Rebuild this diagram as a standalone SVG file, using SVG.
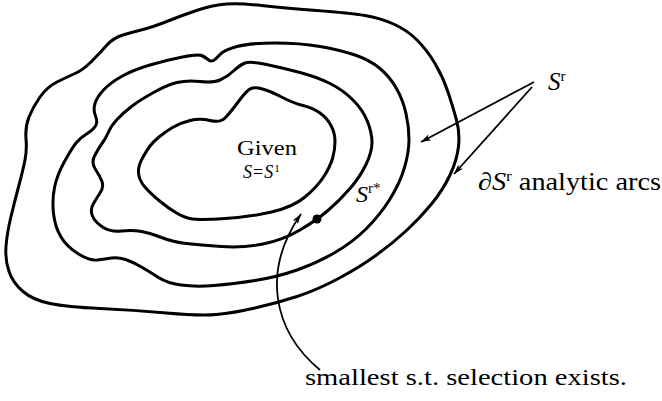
<svg xmlns="http://www.w3.org/2000/svg" width="662" height="401" viewBox="0 0 662 401">
<style>
.curve{fill:none;stroke:#000;stroke-width:3;stroke-linejoin:round}
.conn{fill:none;stroke:#000;stroke-width:1.8}
text{font-family:"Liberation Serif","Times New Roman",serif;fill:#000}
.it{font-style:italic}
</style>
<defs>
<marker id="ah" markerUnits="userSpaceOnUse" markerWidth="14" markerHeight="10" viewBox="-11 -5 12 10" refX="0" refY="0" orient="auto">
<path d="M0,0 L-10,-3.2 L-7.5,0 L-10,3.2 Z" fill="#000"/>
</marker>
</defs>
<g id="curve-outer">
<path class="curve" d="M26,138.5 Q25,127 29,117 Q33,107 40,97 Q47,87 57,82 Q67,77 75,73.5 Q83,70 91.5,61.5 Q100,53 106.5,45.5 Q113,38 123,35 Q133,32 143,29.5 Q153,27 168,21 Q183,15 198,10 Q213,5 226.5,4 Q240,3 261.5,5.5 Q283,8 316.5,10.5 Q350,13 365,15.5 Q380,18 393.5,24 Q407,30 417,40 Q427,50 435,63.5 Q443,77 448,92 Q453,107 456.5,120 Q460,133 458.5,146.5 Q457,160 450,175 Q443,190 431.5,204 Q420,218 406.5,230.5 Q393,243 376.5,255 Q360,267 338.5,278.5 Q317,290 297,296.5 Q277,303 255,308 Q233,313 216.5,314.5 Q200,316 166.5,313 Q133,310 100,308.5 Q67,307 50,303.5 Q33,300 23,291.5 Q13,283 9,271.5 Q5,260 6,246.5 Q7,233 11,216.5 Q15,200 19,185 Q23,170 25,160 Q27,150 26,138.5 Z"/>
</g>
<g id="curve-3">
<path class="curve" d="M76,143 Q80,138 86.5,134 Q93,130 95.5,126 Q98,122 95.5,116 Q93,110 95,103.5 Q97,97 103.5,90 Q110,83 121.5,76.5 Q133,70 150,65 Q167,60 182.5,57 Q198,54 201.5,55.5 Q205,57 208,59.5 Q211,62 213.5,60.5 Q216,59 220,54.5 Q224,50 237,46.5 Q250,43 275,43 Q300,43 320,46.5 Q340,50 355,55 Q370,60 380,68.5 Q390,77 396.5,88.5 Q403,100 406,113.5 Q409,127 409,139.5 Q409,152 404.5,167.5 Q400,183 390,199 Q380,215 366.5,228.5 Q353,242 335,252.5 Q317,263 297,270 Q277,277 255,280.5 Q233,284 214,285.5 Q195,287 181,285 Q167,283 158.5,277.5 Q150,272 141.5,267 Q133,262 125.5,259.5 Q118,257 111.5,258 Q105,259 97.5,260 Q90,261 78.5,254 Q67,247 61,237 Q55,227 53.5,213.5 Q52,200 54.5,187.5 Q57,175 64.5,161.5 Q72,148 76,143 Z"/>
</g>
<g id="curve-2">
<path class="curve" d="M102,143.5 Q106,138 108.5,132 Q111,126 117,119.5 Q123,113 131.5,106.5 Q140,100 153.5,92.5 Q167,85 177,82.5 Q187,80 200,81.5 Q213,83 220,80 Q227,77 233.5,71 Q240,65 245,63 Q250,61 266.5,64.5 Q283,68 300,72.5 Q317,77 330,83.5 Q343,90 353,100 Q363,110 367.5,121.5 Q372,133 372,142.5 Q372,152 366,164.5 Q360,177 350,188.5 Q340,200 328.5,210 Q317,220 300,230 Q283,240 263,244 Q243,248 221.5,246.5 Q200,245 186.5,243.5 Q173,242 161.5,237.5 Q150,233 141.5,231.5 Q133,230 121.5,231 Q110,232 102.5,227 Q95,222 92.5,216 Q90,210 93,204.5 Q96,199 100,193 Q104,187 102,181.5 Q100,176 95.5,169.5 Q91,163 94.5,156 Q98,149 102,143.5 Z"/>
<circle cx="317" cy="219" r="4.5" fill="#000"/>
<text class="it" x="356" y="202" font-size="24">S<tspan font-size="15" dy="-9" font-style="normal">r*</tspan></text>
</g>
<g id="curve-inner">
<path class="curve" d="M150,146 Q153,142 159,137 Q165,132 172.5,127.5 Q180,123 190,120.5 Q200,118 210,120.5 Q220,123 225,118 Q230,113 238.5,101.5 Q247,90 251,88.5 Q255,87 262.5,89 Q270,91 281.5,97 Q293,103 303,105.5 Q313,108 320,113 Q327,118 331,125.5 Q335,133 335,141.5 Q335,150 332.5,158.5 Q330,167 323.5,177 Q317,187 305,197 Q293,207 271.5,212 Q250,217 225,218.5 Q200,220 192.5,219 Q185,218 176.5,213 Q168,208 159,200.5 Q150,193 144.5,186.5 Q139,180 138.5,173 Q138,166 142.5,158 Q147,150 150,146 Z"/>
<text x="237" y="155" font-size="20" textLength="60" lengthAdjust="spacingAndGlyphs">Given</text>
<text x="243" y="178" font-size="18"><tspan class="it">S</tspan><tspan dx="1">=</tspan><tspan class="it" dx="1">S</tspan><tspan font-size="11" dy="-6" dx="1">1</tspan></text>
</g>
<g id="label-Sr">
<text class="it" x="548" y="90" font-size="25">S<tspan font-size="15" dy="-9" font-style="normal">r</tspan></text>
</g>
<g id="label-arcs">
<text x="478" y="190" font-size="25" textLength="183" lengthAdjust="spacingAndGlyphs">∂<tspan class="it">S</tspan><tspan font-size="15" dy="-9">r</tspan><tspan dy="9"> analytic arcs</tspan></text>
</g>
<g id="label-smallest">
<text x="305" y="385" font-size="24" textLength="322" lengthAdjust="spacingAndGlyphs">smallest s.t. selection exists.</text>
</g>
<g id="connectors">
<path class="conn" d="M534,82 L421,142" marker-end="url(#ah)"/>
<path class="conn" d="M532,87 L454,174" marker-end="url(#ah)"/>
<path class="conn" d="M320,370 C272,330 262,270 301,214" marker-end="url(#ah)"/>
</g>
</svg>
